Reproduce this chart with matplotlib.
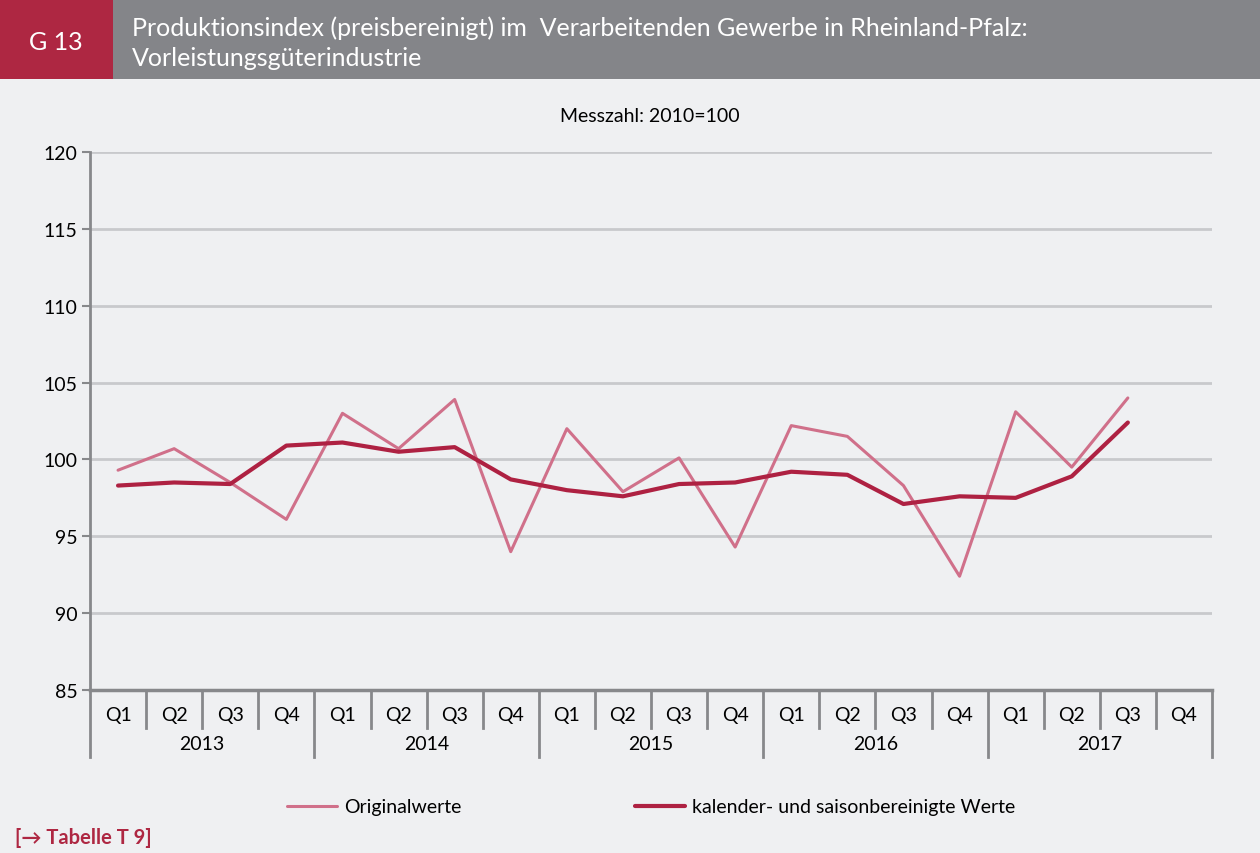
import numpy as np
import matplotlib.pyplot as plt
from matplotlib.patches import Rectangle

jahre = ["2013", "2014", "2015", "2016", "2017"]
quartale = ["Q1", "Q2", "Q3", "Q4"]
originalwerte = [99.3, 100.7, 98.5, 96.1,
                 103.0, 100.7, 103.9, 94.0,
                 102.0, 97.9, 100.1, 94.3,
                 102.2, 101.5, 98.3, 92.4,
                 103.1, 99.5, 104.0]
bereinigt = [98.3, 98.5, 98.4, 100.9,
             101.1, 100.5, 100.8, 98.7,
             98.0, 97.6, 98.4, 98.5,
             99.2, 99.0, 97.1, 97.6,
             97.5, 98.9, 102.4]

hell = "#d0708a"
dunkel = "#ae2142"
grau = "#87888b"
bg = "#eff0f2"
fs = 14

plt.rcParams['font.family'] = ['Lato', 'DejaVu Sans']

fig = plt.figure(figsize=(12.6, 8.54), dpi=100, facecolor=bg)

# Kopfzeile
fig.patches.append(Rectangle((0, 1 - 80/854), 113/1260, 80/854, transform=fig.transFigure,
                             facecolor="#ae2742", edgecolor="none"))
fig.patches.append(Rectangle((113/1260, 1 - 80/854), 1 - 113/1260, 80/854, transform=fig.transFigure,
                             facecolor="#848589", edgecolor="none"))
fig.text(56/1260, 1 - 43/854, "G 13", color="white", fontsize=18, ha="center", va="center")
fig.text(132/1260, 1 - 28/854, "Produktionsindex (preisbereinigt) im  Verarbeitenden Gewerbe in Rheinland-Pfalz:",
         color="white", fontsize=18, ha="left", va="center")
fig.text(132/1260, 1 - 59/854, "Vorleistungsgüterindustrie", color="white", fontsize=18, ha="left", va="center")

fig.text(650/1260, 1 - 117/854, "Messzahl: 2010=100", fontsize=fs, ha="center", va="center")

ax = fig.add_axes([90/1260, 1 - 691/854, (1212 - 90)/1260, (691 - 153)/854])
ax.set_facecolor(bg)

x = np.arange(len(originalwerte))
ax.plot(x, originalwerte, color=hell, lw=2.2, solid_capstyle="round", label="Originalwerte")
ax.plot(x, bereinigt, color=dunkel, lw=3, solid_capstyle="round",
        label="kalender- und saisonbereinigte Werte")

ax.set_xlim(-0.5, 19.5)
ax.set_ylim(85, 120)
ax.set_yticks(range(85, 121, 5))
ax.yaxis.grid(True, color="#c8c9cc", lw=2)
ax.set_axisbelow(True)
ax.set_xticks([])
for s in ["top", "right"]:
    ax.spines[s].set_visible(False)
ax.spines["left"].set_color(grau)
ax.spines["left"].set_linewidth(2)
ax.spines["bottom"].set_color(grau)
ax.spines["bottom"].set_linewidth(2.5)
ax.tick_params(axis="y", colors=grau, length=6, width=1.5, labelsize=fs, labelcolor="black", pad=3)

# Kategorieachse mit Quartalen und Jahren
tr = ax.get_xaxis_transform()
n = len(jahre) * len(quartale)
for i in range(n + 1):
    unten = -0.125 if i % 4 == 0 else -0.07
    ax.plot([i - 0.5, i - 0.5], [0, unten], transform=tr, color=grau, lw=2, clip_on=False)
for i in range(n):
    ax.text(i, -0.045, quartale[i % 4], transform=tr, ha="center", va="center", fontsize=fs)
for j, jahr in enumerate(jahre):
    ax.text(j * 4 + 1.5, -0.10, jahr, transform=tr, ha="center", va="center", fontsize=fs)

ax.legend(loc="center", bbox_to_anchor=(0.5, (691 - 808)/538), bbox_transform=ax.transAxes,
          ncol=2, frameon=False, fontsize=fs, handlelength=2.6, handletextpad=0.35,
          columnspacing=8.9)

fig.text(15/1260, 1 - 838/854, "[\u2192 Tabelle T 9]", color="#ae2742", fontsize=14.5,
         fontweight="bold", ha="left", va="center")

fig.savefig("out.png", dpi=100, facecolor=bg)
